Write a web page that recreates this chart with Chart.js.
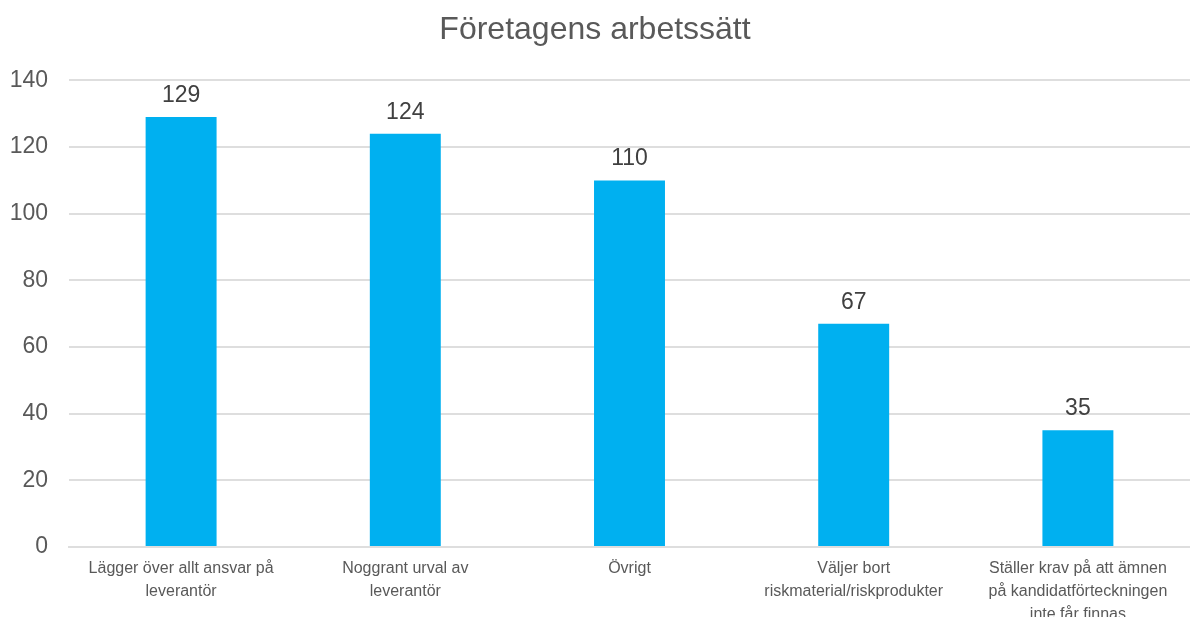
<!DOCTYPE html>
<html>
<head>
<meta charset="utf-8">
<script src="https://cdn.jsdelivr.net/npm/chart.js@4"></script>
<style>
html,body{margin:0;padding:0;background:#fff;overflow:hidden;}
#wrap{width:1190px;height:617px;position:relative;}
</style>
</head>
<body>
<div id="wrap"><canvas id="c"></canvas></div>
<script>
const chartTitle = "Företagens arbetssätt";
const categories = [
  ["Lägger över allt ansvar på", "leverantör"],
  ["Noggrant urval av", "leverantör"],
  ["Övrigt"],
  ["Väljer bort", "riskmaterial/riskprodukter"],
  ["Ställer krav på att ämnen", "på kandidatförteckningen", "inte får finnas"]
];
const values = [129, 124, 110, 67, 35];
const yTicks = [0, 20, 40, 60, 80, 100, 120, 140];

const FONT = "'Liberation Sans', Arial, sans-serif";

const valueLabels = {
  id: 'valueLabels',
  afterDatasetsDraw(chart) {
    const ctx = chart.ctx;
    const meta = chart.getDatasetMeta(0);
    ctx.save();
    ctx.font = "23px " + FONT;
    ctx.fillStyle = "#404040";
    ctx.textAlign = "center";
    ctx.textBaseline = "bottom";
    meta.data.forEach((bar, i) => {
      ctx.fillText(String(values[i]), bar.x, bar.y - 10);
    });
    ctx.restore();
  }
};

new Chart(document.getElementById('c'), {
  type: 'bar',
  data: {
    labels: categories,
    datasets: [{
      data: values,
      backgroundColor: '#00B0F0',
      borderWidth: 0,
      categoryPercentage: 1.0,
      barPercentage: 0.3165
    }]
  },
  options: {
    responsive: true,
    maintainAspectRatio: false,
    animation: false,
    layout: { padding: { left: 0, right: 0, top: 0, bottom: 0 } },
    plugins: {
      legend: { display: false },
      tooltip: { enabled: false },
      title: {
        display: true,
        text: chartTitle,
        color: '#595959',
        font: { family: FONT, size: 32, weight: 'normal' },
        padding: { top: 11, bottom: 31 }
      }
    },
    scales: {
      x: {
        grid: { display: false, drawTicks: false },
        border: { display: true, color: '#DEDEDE', width: 2 },
        ticks: {
          color: '#595959',
          font: { family: FONT, size: 16, lineHeight: 1.43 },
          padding: 10,
          maxRotation: 0,
          autoSkip: false
        },
        afterFit(scale) { scale.height = 70; }
      },
      y: {
        min: 0,
        max: 140,
        afterBuildTicks(scale) { scale.ticks = yTicks.map(v => ({ value: v })); },
        grid: { color: '#DEDEDE', lineWidth: 2, drawTicks: false },
        border: { display: false },
        ticks: {
          color: '#595959',
          font: { family: FONT, size: 23 },
          padding: 21
        },
        afterFit(scale) { scale.width = 69; }
      }
    }
  },
  plugins: [valueLabels]
});
</script>
</body>
</html>
